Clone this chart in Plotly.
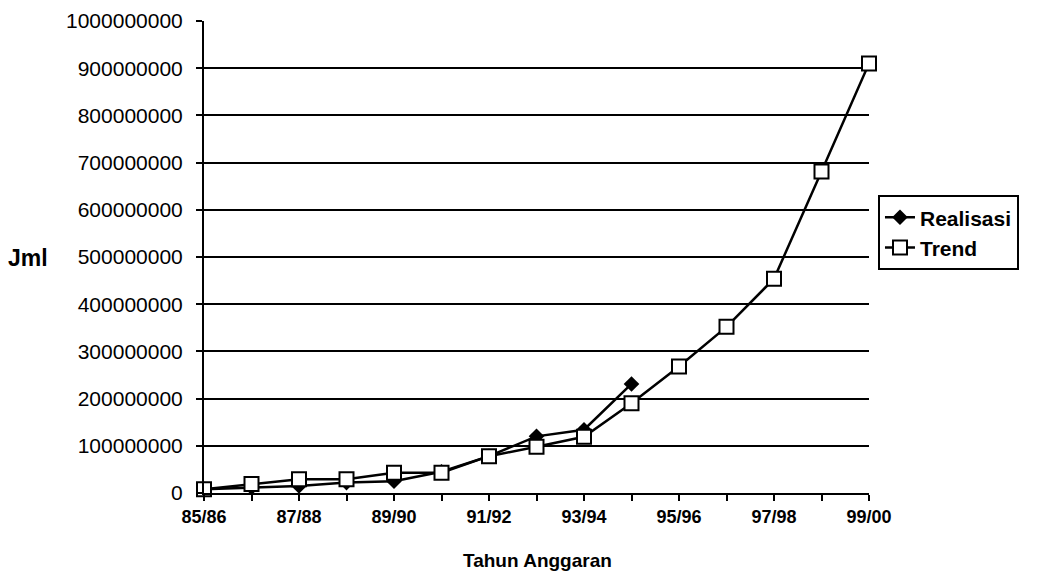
import plotly.graph_objects as go

categories = ["85/86", "86/87", "87/88", "88/89", "89/90", "90/91", "91/92",
              "92/93", "93/94", "94/95", "95/96", "96/97", "97/98", "98/99", "99/00"]
realisasi = [8e6, 12e6, 15e6, 22e6, 25e6, 45e6, 78e6, 120e6, 134e6, 231e6]
trend = [8e6, 19e6, 29e6, 29e6, 43e6, 43e6, 78e6, 98e6, 119e6, 190e6,
         268e6, 352e6, 454e6, 681e6, 910e6]
x_labels = [c if i % 2 == 0 else "" for i, c in enumerate(categories)]
y_ticks = list(range(0, 1000000001, 100000000))

fig = go.Figure()
fig.add_trace(go.Scatter(
    x=categories[:len(realisasi)], y=realisasi, name="Realisasi",
    mode="lines+markers", legendgroup="a",
    line=dict(color="black", width=2.5),
    marker=dict(symbol="diamond", size=12, color="black"),
    cliponaxis=False,
))
fig.add_trace(go.Scatter(
    x=categories, y=trend, name="Trend",
    mode="lines+markers", legendgroup="b",
    line=dict(color="black", width=2.5),
    marker=dict(symbol="square", size=14, color="white",
                line=dict(color="black", width=2)),
    cliponaxis=False,
))

font = "Liberation Sans, Arial, sans-serif"
# page offset of 8px (body margin) accounted for
fig.update_layout(
    width=1032, height=566,
    margin=dict(l=196, r=171, t=13, b=81, autoexpand=False),
    paper_bgcolor="white", plot_bgcolor="white",
    font=dict(family=font, color="black", size=13),
    showlegend=True,
    legend=dict(x=1.0135, y=0.631, xanchor="left", yanchor="top",
                bordercolor="black", borderwidth=2, bgcolor="white",
                font=dict(family=font, size=21, color="black", weight="bold"),
                tracegroupgap=0, itemwidth=30),
    xaxis=dict(
        type="category", categoryorder="array", categoryarray=categories,
        range=[0, len(categories) - 1], automargin=False,
        tickmode="array", tickvals=categories, ticktext=x_labels,
        ticks="outside", ticklen=6, tickwidth=2, tickcolor="black",
        showline=True, linecolor="black", linewidth=2,
        showgrid=False, zeroline=False,
        tickfont=dict(family=font, size=18, color="black", weight="bold"),
    ),
    yaxis=dict(
        range=[0, 1e9], tickmode="array", tickvals=y_ticks, automargin=False,
        ticktext=[str(v) for v in y_ticks],
        ticks="outside", ticklen=6, tickwidth=2, tickcolor="black",
        ticklabelstandoff=9,
        showline=True, linecolor="black", linewidth=2,
        showgrid=True, gridcolor="black", gridwidth=2,
        zeroline=False,
        tickfont=dict(family=font, size=21, color="black"),
    ),
    annotations=[
        dict(text="<b>Jml</b>", x=(28 - 204) / 665, y=(493 - 258) / 472,
             xref="paper", yref="paper", xanchor="center", yanchor="middle",
             showarrow=False, font=dict(family=font, size=23)),
        dict(text="<b>Tahun Anggaran</b>", x=(537 - 204) / 665, y=(493 - 573) / 472,
             xref="paper", yref="paper", xanchor="center", yanchor="bottom",
             showarrow=False, font=dict(family=font, size=19)),
    ],
)
fig.write_html("out.html")
